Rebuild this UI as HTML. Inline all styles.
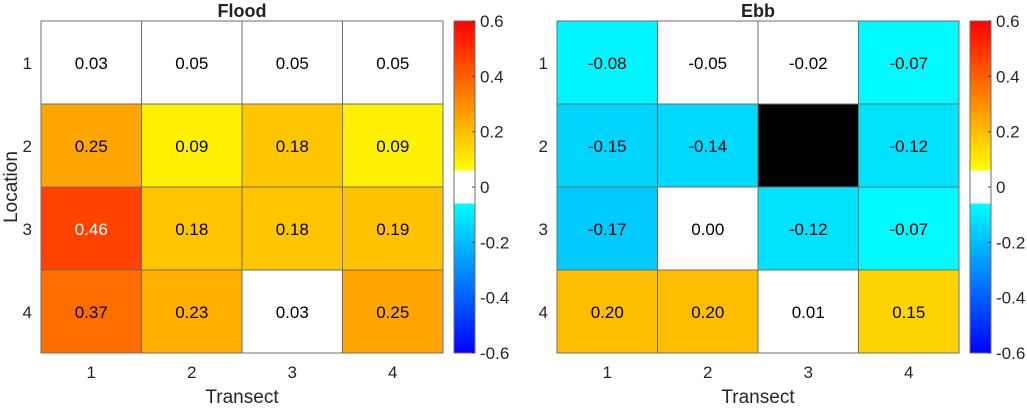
<!DOCTYPE html>
<html><head><meta charset="utf-8"><style>
body{margin:0;background:#fff;font-family:"Liberation Sans",sans-serif}
svg text{font-family:"Liberation Sans",sans-serif}
</style></head><body>
<svg id="chart" width="1027" height="406" xmlns="http://www.w3.org/2000/svg">
<defs>
<linearGradient id="cb" x1="0" y1="1" x2="0" y2="0">
<stop offset="0" stop-color="#0000ff"/>
<stop offset="0.45" stop-color="#00ffff"/>
<stop offset="0.45" stop-color="#ffffff"/>
<stop offset="0.55" stop-color="#ffffff"/>
<stop offset="0.55" stop-color="#ffff00"/>
<stop offset="1" stop-color="#ff0000"/>
</linearGradient>
</defs>
</svg>
<script>
const locations=["1","2","3","4"];
const transects=["1","2","3","4"];
const floodValues=[[0.03,0.05,0.05,0.05],[0.25,0.09,0.18,0.09],[0.46,0.18,0.18,0.19],[0.37,0.23,0.03,0.25]];
const ebbValues=[[-0.08,-0.05,-0.02,-0.07],[-0.15,-0.14,null,-0.12],[-0.17,0.00,-0.12,-0.07],[0.20,0.20,0.01,0.15]];
const cbTicks=[0.6,0.4,0.2,0,-0.2,-0.4,-0.6];
const titles=["Flood","Ebb"];
const NS="http://www.w3.org/2000/svg";
const svg=document.getElementById('chart');
function mk(t,a,p){const e=document.createElementNS(NS,t);for(const k in a)e.setAttribute(k,a[k]);(p||svg).appendChild(e);return e;}
function color(v){
 if(v===null)return "#000";
 if(Math.abs(v)<0.06)return "#fff";
 if(v>0){const f=Math.min(1,(v-0.06)/0.54);return `rgb(255,${Math.round(255*(1-f))},0)`;}
 const f=Math.min(1,(-v-0.06)/0.54);return `rgb(0,${Math.round(255*(1-f))},255)`;
}
const plotTop=21,plotBot=353;
function panel(x0,x1,cbx,vals,title,ylab){
 const g=mk('g',{});
 
 
 const cw=(x1-x0)/transects.length,ch=(plotBot-plotTop)/locations.length;
 vals.forEach((row,r)=>row.forEach((v,c)=>{
  const rc=mk('rect',{x:x0+c*cw,y:plotTop+r*ch,width:cw,height:ch,fill:color(v),stroke:'#6e6e6e','stroke-width':1},g);
  
  
  if(v!==null){
   const t=mk('text',{x:x0+(c+0.5)*cw,y:plotTop+(r+0.5)*ch+6.5,'text-anchor':'middle','font-size':17,fill:v>0.4?'#fff':'#000'},g);
   t.textContent=v.toFixed(2);
   
   
  }
 }));
 mk('rect',{x:x0,y:plotTop,width:x1-x0,height:plotBot-plotTop,fill:'none',stroke:'#6e6e6e'},g);
 const tt=mk('text',{x:(x0+x1)/2,y:17,'text-anchor':'middle','font-size':18,'font-weight':'bold',fill:'#222'},g);
 tt.textContent=title;
 
 
 transects.forEach((s,i)=>{const t=mk('text',{x:x0+(i+0.5)*cw,y:378,'text-anchor':'middle','font-size':17,fill:'#262626'},g);t.textContent=s;
  
  });
 locations.forEach((s,i)=>{const t=mk('text',{x:x0-9,y:plotTop+(i+0.5)*ch+6.5,'text-anchor':'end','font-size':17,fill:'#262626'},g);t.textContent=s;
  
  });
 const xl=mk('text',{x:(x0+x1)/2,y:403,'text-anchor':'middle','font-size':19,fill:'#262626'},g);xl.textContent='Transect';
 
 
 if(ylab){const yl=mk('text',{x:0,y:0,transform:`translate(17,${(plotTop+plotBot)/2}) rotate(-90)`,'text-anchor':'middle','font-size':19,fill:'#262626'},g);yl.textContent='Location';
  
  }
 const cb=mk('rect',{x:cbx,y:plotTop,width:21,height:plotBot-plotTop,fill:'url(#cb)',stroke:'#6e6e6e'},g);
 
 
 cbTicks.forEach(v=>{const y=plotTop+(0.6-v)/1.2*(plotBot-plotTop);
  mk('line',{x1:cbx+18,x2:cbx+21,y1:y,y2:y,stroke:'#444'},g);
  const t=mk('text',{x:cbx+26,y:y+6,'font-size':17,fill:'#262626'},g);t.textContent=String(v);
  
  });
}
panel(41,443,454,floodValues,titles[0],true);
panel(557,959,970,ebbValues,titles[1],false);
</script>
</body></html>
